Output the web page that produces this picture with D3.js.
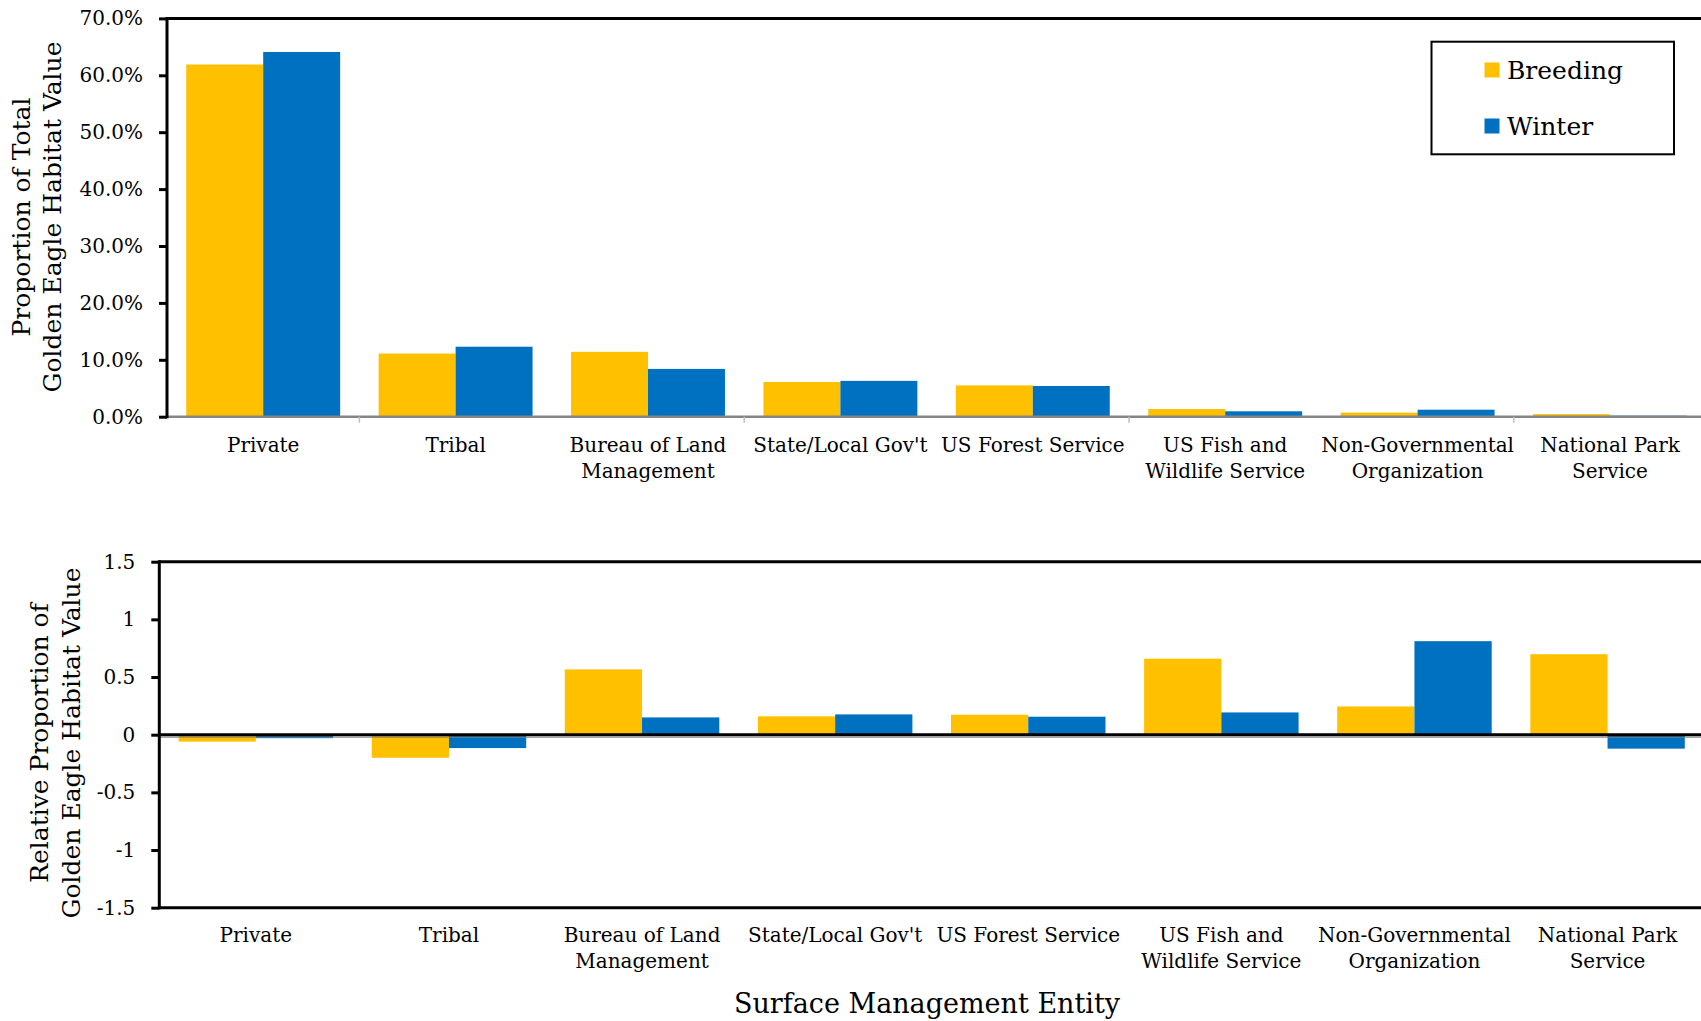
<!DOCTYPE html>
<html>
<head>
<meta charset="utf-8">
<script src="https://cdn.jsdelivr.net/npm/d3@7"></script>
<style>
  html, body { margin: 0; padding: 0; background: #fff; }
  svg { display: block; }
  text { font-family: "DejaVu Serif", "Liberation Serif", serif; fill: #000; }
</style>
</head>
<body>
<script>
// Surface management entities and their wrapped axis labels
const categories = ["Private", "Tribal", "Bureau of Land Management", "State/Local Gov't",
  "US Forest Service", "US Fish and Wildlife Service", "Non-Governmental Organization",
  "National Park Service"];
const categoryLines = [["Private"], ["Tribal"], ["Bureau of Land", "Management"],
  ["State/Local Gov't"], ["US Forest Service"], ["US Fish and", "Wildlife Service"],
  ["Non-Governmental", "Organization"], ["National Park", "Service"]];

const seasons = ["Breeding", "Winter"];
const seasonColors = ["#FFC000", "#0070C0"];

// Proportion of total golden eagle habitat value
const breedingShare = [0.619, 0.111, 0.114, 0.061, 0.055, 0.0135, 0.0072, 0.0045];
const winterShare   = [0.641, 0.123, 0.084, 0.063, 0.054, 0.0095, 0.0123, 0.0018];

// Relative proportion of golden eagle habitat value
const breedingRelative = [-0.06, -0.20, 0.566, 0.159, 0.173, 0.659, 0.245, 0.698];
const winterRelative   = [-0.03, -0.116, 0.15, 0.176, 0.156, 0.193, 0.811, -0.121];

const shareTicks = [0, 0.1, 0.2, 0.3, 0.4, 0.5, 0.6, 0.7];
const relativeTicks = [-1.5, -1, -0.5, 0, 0.5, 1, 1.5];

const W = 1701, H = 1021;
const svg = d3.select("body").append("svg").attr("width", W).attr("height", H);

function drawPanel(opts) {
  const g = svg.append("g");
  const x = d3.scaleBand().domain(categories).range([opts.x0, opts.x0 + opts.bandW * 8]).padding(0);
  const xs = d3.scaleBand().domain(seasons).range([x.bandwidth() * 0.1, x.bandwidth() * 0.9]).padding(0);
  const y = d3.scaleLinear().domain(opts.domain).range([opts.yBottom, opts.yTop]);

  const rows = categories.map((c, i) => ({ c, vals: [opts.series[0][i], opts.series[1][i]] }));

  // bars
  g.selectAll("g.cat").data(rows).join("g").attr("class", "cat")
    .attr("transform", d => `translate(${x(d.c)},0)`)
    .selectAll("rect").data(d => d.vals.map((v, k) => ({ v, k })))
    .join("rect")
    .attr("x", d => xs(seasons[d.k]))
    .attr("width", xs.bandwidth())
    .attr("y", d => Math.min(y(0), y(d.v)))
    .attr("height", d => Math.abs(y(d.v) - y(0)))
    .attr("fill", d => seasonColors[d.k]);

  // horizontal category axis
  opts.drawBaseline(g, x, y);

  // y axis with ticks and labels
  const yAxis = d3.axisLeft(y).tickValues(opts.ticks).tickSize(8).tickPadding(16).tickFormat(opts.fmt);
  const ya = g.append("g").attr("transform", `translate(${opts.x0},0)`).call(yAxis);
  ya.select(".domain").remove();
  ya.selectAll(".tick line").attr("stroke", "#000").attr("stroke-width", 3);
  ya.selectAll(".tick text").attr("font-size", 20).attr("fill", "#000")
    .attr("font-family", "DejaVu Serif");

  // frame: left axis and top border
  g.append("line").attr("x1", opts.x0).attr("x2", opts.x0)
    .attr("y1", opts.yTop - 1.5).attr("y2", opts.yBottom + 1.5)
    .attr("stroke", "#000").attr("stroke-width", 3);
  g.append("line").attr("x1", opts.x0).attr("x2", W)
    .attr("y1", opts.yTop).attr("y2", opts.yTop)
    .attr("stroke", "#000").attr("stroke-width", 3);

  // category labels
  const lab = g.selectAll("text.cat").data(categories).join("text").attr("class", "cat")
    .attr("text-anchor", "middle").attr("font-size", 20)
    .attr("x", c => x(c) + x.bandwidth() / 2)
    .attr("y", opts.labelY);
  lab.selectAll("tspan").data((c, i) => categoryLines[i]).join("tspan")
    .attr("x", function () { return d3.select(this.parentNode).attr("x"); })
    .attr("dy", (d, j) => j === 0 ? 0 : 25.5)
    .text(d => d);

  // rotated y title
  const t = g.append("text").attr("text-anchor", "middle").attr("font-size", opts.titleSize)
    .attr("transform", `translate(0,${opts.titleCY}) rotate(-90)`);
  opts.title.forEach((line, j) => {
    t.append("tspan").attr("x", 0).attr("y", opts.titleX[j]).text(line);
  });
  return { x, y };
}

// Upper panel: share of total habitat value
drawPanel({
  x0: 167, bandW: 192.4, yTop: 18.4, yBottom: 416.7, domain: [0, 0.7],
  series: [breedingShare, winterShare], ticks: shareTicks,
  fmt: d => (d * 100).toFixed(1) + "%",
  labelY: 452, title: ["Proportion of Total", "Golden Eagle Habitat Value"],
  titleX: [30, 61], titleCY: 217, titleSize: 25,
  drawBaseline: (g, x, y) => {
    g.append("line").attr("x1", 167).attr("x2", W).attr("y1", y(0)).attr("y2", y(0))
      .attr("stroke", "#858585").attr("stroke-width", 2.5);
    const bounds = [1, 3, 5, 7].map(i => x.range()[0] + i * x.bandwidth());
    g.selectAll("line.ct").data(bounds).join("line").attr("class", "ct")
      .attr("x1", d => d).attr("x2", d => d).attr("y1", y(0)).attr("y2", y(0) + 6)
      .attr("stroke", "#bfbfbf").attr("stroke-width", 1.5);
  }
});

// Lower panel: relative proportion of habitat value
drawPanel({
  x0: 159.3, bandW: 193.1, yTop: 561.7, yBottom: 907.7, domain: [-1.5, 1.5],
  series: [breedingRelative, winterRelative], ticks: relativeTicks,
  fmt: d => String(d),
  labelY: 942, title: ["Relative Proportion of", "Golden Eagle Habitat Value"],
  titleX: [48, 80], titleCY: 743, titleSize: 25,
  drawBaseline: (g, x, y) => {
    g.append("line").attr("x1", 159.3).attr("x2", W).attr("y1", y(0) + 2.5).attr("y2", y(0) + 2.5)
      .attr("stroke", "#7f7f7f").attr("stroke-width", 1);
    g.append("line").attr("x1", 159.3).attr("x2", W).attr("y1", y(0)).attr("y2", y(0))
      .attr("stroke", "#000").attr("stroke-width", 3);
    g.append("line").attr("x1", 159.3).attr("x2", W).attr("y1", y(-1.5)).attr("y2", y(-1.5))
      .attr("stroke", "#000").attr("stroke-width", 3);
  }
});

// shared x title
svg.append("text").attr("text-anchor", "middle").attr("font-size", 27)
  .attr("x", 927).attr("y", 1013).text("Surface Management Entity");

// legend
const lg = svg.append("g");
lg.append("rect").attr("x", 1431.5).attr("y", 41.7).attr("width", 242.5).attr("height", 112.6)
  .attr("fill", "#fff").attr("stroke", "#000").attr("stroke-width", 2);
seasons.forEach((s, i) => {
  lg.append("rect").attr("x", 1484.5).attr("y", 62.5 + i * 56).attr("width", 15).attr("height", 15)
    .attr("fill", seasonColors[i]);
  lg.append("text").attr("x", 1507).attr("y", 79 + i * 56).attr("font-size", 25).text(s);
});
</script>
</body>
</html>
